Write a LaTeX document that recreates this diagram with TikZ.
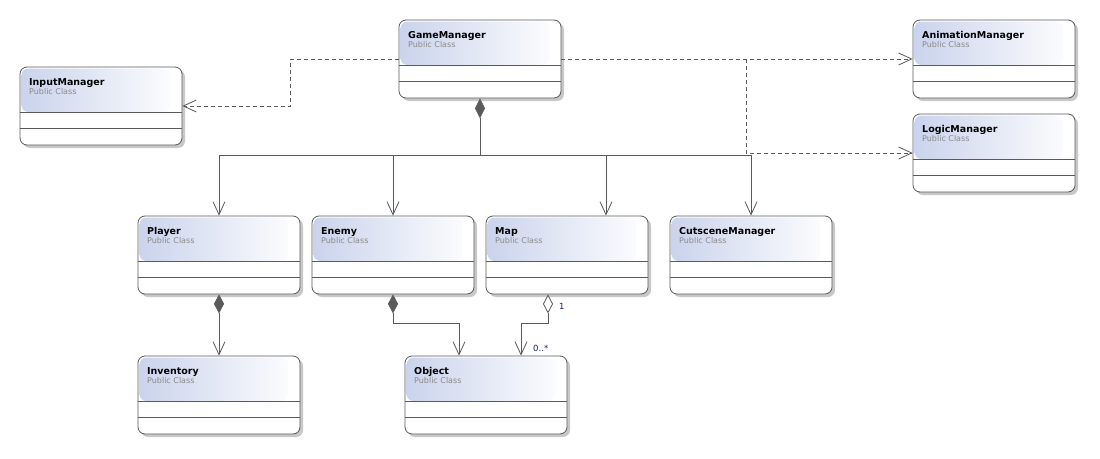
\documentclass[tikz,border=0pt]{standalone}
\usepackage{fontspec}
\setmainfont{DejaVu Sans}
\usetikzlibrary{arrows.meta}
\definecolor{hdr}{HTML}{CAD3EC}
\definecolor{edge}{HTML}{5A5A5A}
\definecolor{shadowc}{HTML}{C8C8C8}
\definecolor{subc}{HTML}{8A8A8A}
\definecolor{mult}{HTML}{14206E}
\tikzset{
  classbox/.style={draw=edge, fill=white, rounded corners=7pt, minimum width=162pt,
    minimum height=78pt, inner sep=0pt, line width=0.8pt,
    path picture={
      \shade[left color=hdr, right color=white]
        ([xshift=1.5pt,yshift=-1.5pt]path picture bounding box.north west) rectangle
        ([xshift=-12pt,yshift=-45pt]path picture bounding box.north east);
      \draw[edge, line width=0.7pt] ([yshift=-45pt]path picture bounding box.north west) --
        ([yshift=-45pt]path picture bounding box.north east);
      \draw[edge, line width=0.7pt] ([yshift=-61pt]path picture bounding box.north west) --
        ([yshift=-61pt]path picture bounding box.north east);
    }},
  classshadow/.style={fill=shadowc, rounded corners=7pt},
  titletext/.style={anchor=base west, inner sep=0pt, font=\fontsize{9.5}{10}\selectfont\bfseries},
  subtext/.style={anchor=base west, inner sep=0pt, text=subc, font=\fontsize{8}{9}\selectfont},
  conn/.style={draw=edge, line width=0.8pt},
  openarrow/.style={conn, -{Straight Barb[length=13pt,width=12pt,line width=0.8pt]}},
  depend/.style={openarrow, dash pattern=on 4pt off 3pt},
  compo/.style={conn, {Diamond[length=19pt,width=10pt,fill=edge,line width=0.6pt]}-{Straight Barb[length=13pt,width=12pt,line width=0.8pt]}},
  aggre/.style={conn, {Diamond[length=19pt,width=10pt,open,fill=white,line width=0.8pt]}-{Straight Barb[length=13pt,width=12pt,line width=0.8pt]}},
  multtext/.style={text=mult, inner sep=0pt, font=\fontsize{8.5}{9}\selectfont},
}
\newcommand\umlclass[4]{%
  \fill[classshadow] (#2+3,#3+3) rectangle ++(162,78);
  \node[classbox] (#1) at (#2+81,#3+39) {};
  \node[titletext] (#1-title) at (#2+9,#3+18.3) {#4};
  \node[subtext] (#1-sub) at (#2+9,#3+27.3) {Public Class};
}
\begin{document}
\begin{tikzpicture}[x=1pt,y=-1pt]
\fill[white] (0,0) rectangle (1100,458);
\useasboundingbox (0,0) rectangle (1100,458);

\umlclass{GameManager}{399}{20}{GameManager}
\umlclass{InputManager}{20}{67}{InputManager}
\umlclass{AnimationManager}{913}{20}{AnimationManager}
\umlclass{LogicManager}{913}{114}{LogicManager}
\umlclass{Player}{138}{216}{Player}
\umlclass{Enemy}{312}{216}{Enemy}
\umlclass{Map}{486}{216}{Map}
\umlclass{CutsceneManager}{670}{216}{CutsceneManager}
\umlclass{Inventory}{138}{356}{Inventory}
\umlclass{Object}{405}{356}{Object}

% dependencies
\draw[depend] (GameManager.west) -- ++(-108,0) |- (InputManager.east);
\draw[depend] (GameManager.east) -- (AnimationManager.west);
\coordinate (br) at (746,59);
\draw[depend] (br) |- (LogicManager.west);

% composition tree from GameManager
\coordinate (hub) at ([yshift=-57pt]GameManager.south);
\draw[conn, {Diamond[length=20pt,width=10pt,fill=edge,line width=0.6pt]}-] (GameManager.south) -- (hub);
\draw[openarrow] (hub) -| (Player.north);
\draw[openarrow] (hub) -| (Enemy.north);
\draw[openarrow] (hub) -| ([xshift=39pt]Map.north);
\draw[openarrow] (hub) -| (CutsceneManager.north);

% Player -> Inventory
\draw[compo] (Player.south) -- (Inventory.north);

% Enemy -> Object
\draw[compo] (Enemy.south) -- ++(0,29) -| ([xshift=-27pt]Object.north);

% Map -> Object
\draw[aggre] ([xshift=-19pt]Map.south) -- ++(0,29) -| ([xshift=35pt]Object.north);
\node[multtext, anchor=base west] (m1) at (559,309) {1};
\node[multtext, anchor=base west] (m2) at (533,351) {0..*};
\end{tikzpicture}
\end{document}
